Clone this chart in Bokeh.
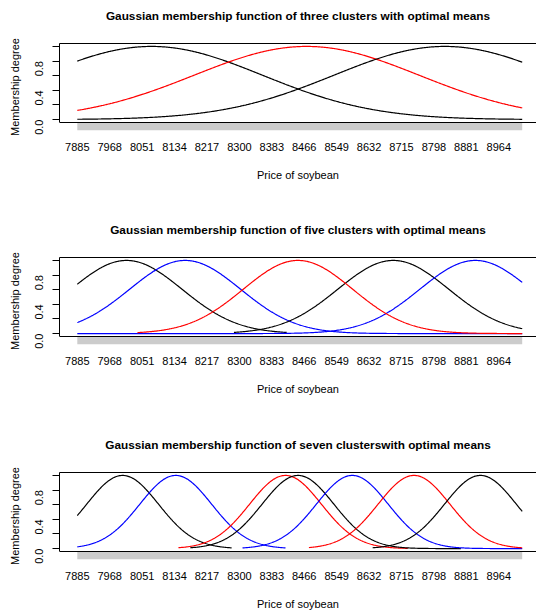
import math
from bokeh.plotting import figure
from bokeh.layouts import column
from bokeh.models import Range1d, FixedTicker, LinearAxis, Span, ColumnDataSource
from bokeh.embed import file_html
from bokeh.resources import INLINE

# ---------------- data ----------------
price_min = 7885
price_max = 9024
x_tick_values = [7885, 7968, 8051, 8134, 8217, 8300, 8383, 8466, 8549, 8632, 8715, 8798, 8881, 8964]
y_tick_values = [0.0, 0.2, 0.4, 0.6, 0.8, 1.0]
y_tick_labels = ["0.0", "", "0.4", "", "0.8", ""]

titles = [
    "Gaussian membership function of three clusters with optimal means",
    "Gaussian membership function of five clusters with optimal means",
    "Gaussian membership function of seven clusterswith optimal means",
]
x_label = "Price of soybean"
y_label = "Membership degree"

means_3 = [8075, 8472, 8826]
sigma_3 = [284, 288, 284]
colors_3 = ["black", "red", "black"]
lo_3 = [7885, 7885, 7885]
hi_3 = [9024, 9024, 9024]

means_5 = [8011, 8161, 8694, 8904, 8450]
sigma_5 = [142, 142, 142, 142, 140]
colors_5 = ["black", "blue", "black", "blue", "red"]
lo_5 = [7885, 7885, 8286, 7885, 8039]
hi_5 = [8421, 9024, 9024, 9024, 9024]

means_7 = [8001, 8137, 8418, 8450, 8589, 8747, 8917]
sigma_7 = [92, 92, 92, 92, 92, 92, 92]
colors_7 = ["black", "blue", "red", "black", "blue", "red", "black"]
lo_7 = [7885, 7885, 8144, 8174, 8308, 8478, 8641]
hi_7 = [8280, 8418, 8731, 8867, 9024, 9024, 9024]

# ---------------- layout constants ----------------
FONT = "Liberation Sans"
span = price_max - price_min
x_start = price_min - 0.04 * span
x_end = x_start + 1.08 * span * 477 / 480.5
box_lo, box_hi = -0.04, 1.04
rug_lo = box_lo - 8 * (box_hi - box_lo) / 79.0


def membership_curves(means, sigmas, lo, hi):
    xs, ys = [], []
    for m, s, a, b in zip(means, sigmas, lo, hi):
        n = int((b - a) / 2) + 1
        xx = [a + (b - a) * i / (n - 1) for i in range(n)]
        xs.append(xx)
        ys.append([math.exp(-((x - m) ** 2) / (2 * s * s)) for x in xx])
    return xs, ys


def make_panel(title, means, sigmas, colors, lo, hi, height, border_bottom):
    p = figure(width=536, height=height, output_backend="svg", toolbar_location=None,
               title=None,
               x_range=Range1d(x_start, x_end), y_range=Range1d(rug_lo, box_hi),
               min_border_left=59, min_border_right=0, min_border_top=43,
               min_border_bottom=border_bottom, background_fill_color="white",
               border_fill_color="white")
    p.outline_line_color = None
    p.xgrid.visible = False
    p.ygrid.visible = False
    xa = p.below[0]
    ya = p.left[0]

    # rug (gray bar below the box)
    p.quad(left=[price_min], right=[price_max], bottom=[rug_lo], top=[box_lo],
           fill_color="#cccccc", line_color=None)

    xs, ys = membership_curves(means, sigmas, lo, hi)
    src = ColumnDataSource(dict(xs=xs, ys=ys, color=colors))
    p.multi_line(xs="xs", ys="ys", line_color="color", line_width=1.2, source=src)

    # box bottom line
    p.add_layout(Span(location=box_lo, dimension="width", line_color="black", line_width=1))
    # box top line + title (as the label of a bare top axis)
    top = LinearAxis(ticker=FixedTicker(ticks=[]), major_label_text_font_size="0px",
                     major_tick_line_color=None, minor_tick_line_color=None,
                     major_tick_out=0, major_tick_in=0, major_label_standoff=0,
                     axis_line_color="black", axis_line_width=1,
                     axis_label=title, axis_label_text_font=FONT,
                     axis_label_text_font_size="11.8px", axis_label_text_font_style="bold",
                     axis_label_text_color="black", axis_label_standoff=21)
    p.add_layout(top, "above")

    xa.ticker = FixedTicker(ticks=x_tick_values)
    xa.axis_line_color = None
    xa.major_tick_line_color = None
    xa.minor_tick_line_color = None
    xa.major_label_text_font = FONT
    xa.major_label_text_font_size = "11px"
    xa.major_label_text_color = "black"
    xa.major_label_standoff = 6
    xa.axis_label = x_label
    xa.axis_label_text_font = FONT
    xa.axis_label_text_font_size = "11px"
    xa.axis_label_text_font_style = "normal"
    xa.axis_label_text_color = "black"
    xa.axis_label_standoff = 15

    ya.ticker = FixedTicker(ticks=y_tick_values)
    ya.major_label_overrides = {v: lab for v, lab in zip(y_tick_values, y_tick_labels)}
    ya.bounds = (box_lo, box_hi)
    ya.axis_line_color = "black"
    ya.major_tick_line_color = "black"
    ya.major_tick_out = 7
    ya.major_tick_in = 0
    ya.minor_tick_line_color = None
    ya.major_label_orientation = math.pi / 2
    ya.major_label_text_font = FONT
    ya.major_label_text_font_size = "11px"
    ya.major_label_text_color = "black"
    ya.major_label_standoff = 13
    ya.axis_label = y_label
    ya.axis_label_text_font = FONT
    ya.axis_label_text_font_size = "11px"
    ya.axis_label_text_font_style = "normal"
    ya.axis_label_text_color = "black"
    ya.axis_label_standoff = 8
    return p


p1 = make_panel(titles[0], means_3, sigma_3, colors_3, lo_3, hi_3, 214, 84)
p2 = make_panel(titles[1], means_5, sigma_5, colors_5, lo_5, hi_5, 215, 85)
p3 = make_panel(titles[2], means_7, sigma_7, colors_7, lo_7, hi_7, 185, 55)

layout = column(p1, p2, p3, spacing=0)
open("out.html", "w").write(file_html(layout, INLINE))
